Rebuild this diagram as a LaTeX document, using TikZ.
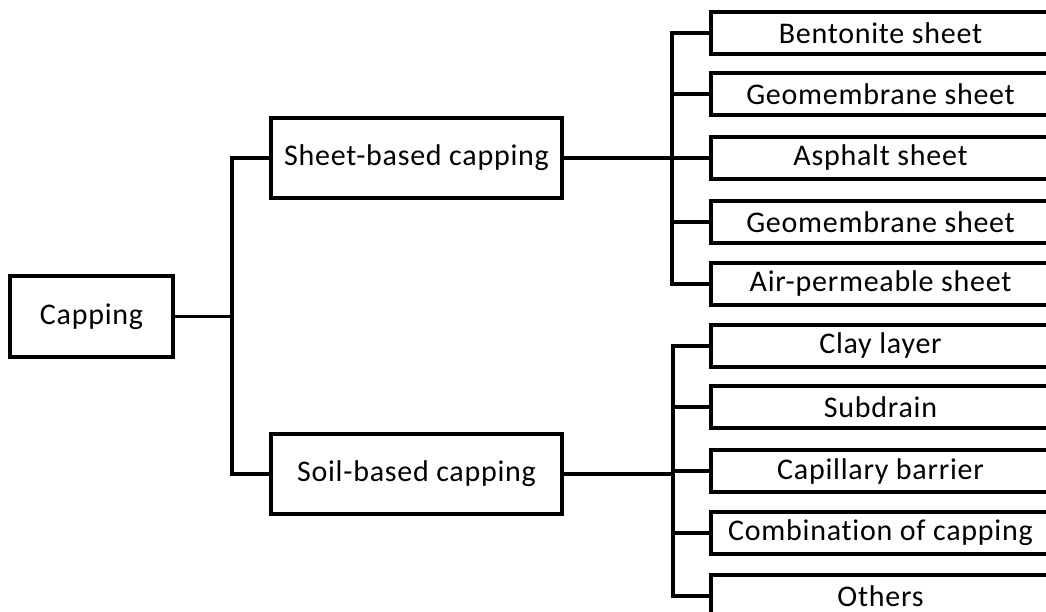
\documentclass[tikz,border=0pt]{standalone}
\usepackage{fontspec}
\setmainfont{Carlito}[Ligatures=CommonOff, LetterSpace=2.5]
\begin{document}
\begin{tikzpicture}[x=1pt,y=-1pt,
  link/.style={line width=3.8pt, line join=miter},
  box/.style={draw, line width=3.8pt, rectangle, inner sep=0pt, align=center,
              font=\fontsize{30}{35}\selectfont},
  leaf/.style={box, minimum width=339pt, minimum height=42pt}]
\useasboundingbox (0,0) rectangle (1046,612);
\clip (0,0) rectangle (1046,612);

% root and the two capping families
\node[box, minimum width=163pt, minimum height=81pt] (cap)   at (91.5,316.5) {Capping};
\node[box, minimum width=291pt, minimum height=80pt] (sheet) at (416.5,158)  {Sheet-based capping};
\node[box, minimum width=291pt, minimum height=80pt] (soil)  at (416.5,474)  {Soil-based capping};

% sheet-based variants
\node[leaf] (s1) at (880.5,33)  {Bentonite sheet};
\node[leaf] (s2) at (880.5,94)  {Geomembrane sheet};
\node[leaf] (s3) at (880.5,158) {Asphalt sheet};
\node[leaf] (s4) at (880.5,222) {Geomembrane sheet};
\node[leaf] (s5) at (880.5,284) {Air-permeable sheet};

% soil-based variants
\node[leaf] (g1) at (880.5,346) {Clay layer};
\node[leaf] (g2) at (880.5,407) {Subdrain};
\node[leaf] (g3) at (880.5,471) {Capillary barrier};
\node[leaf] (g4) at (880.5,533) {Combination of capping};
\node[leaf] (g5) at (880.5,596) {Others};

% trunk positions of the brackets
\coordinate (t0) at (232,0);
\coordinate (t1) at (672,0);
\coordinate (t2) at (673,0);

% root bracket
\draw[link] (cap.east) -- (cap.east -| t0);
\draw[link] (sheet.west) -- (sheet.west -| t0) -- (soil.west -| t0) -- (soil.west);

% sheet bracket
\draw[link] (sheet.east) -- (sheet.east -| t1);
\draw[link] (s1.west) -- (s1.west -| t1) -- (s5.west -| t1) -- (s5.west);
\foreach \n in {s2,s3,s4} \draw[link] (\n.west -| t1) -- (\n.west);

% soil bracket
\draw[link] (soil.east) -- (soil.east -| t2);
\draw[link] (g1.west) -- (g1.west -| t2) -- (g5.west -| t2) -- (g5.west);
\foreach \n in {g2,g3,g4} \draw[link] (\n.west -| t2) -- (\n.west);
\end{tikzpicture}
\end{document}
